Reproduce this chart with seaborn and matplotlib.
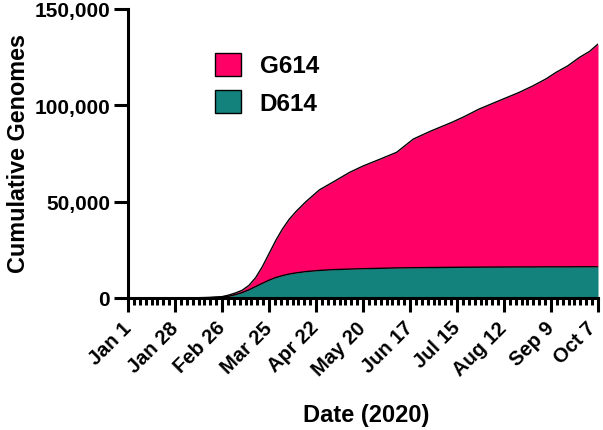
import numpy as np
import pandas as pd
import matplotlib
matplotlib.use("Agg")
import matplotlib.pyplot as plt
import matplotlib.transforms as mtransforms
from matplotlib.ticker import FuncFormatter, MultipleLocator
import seaborn as sns

# days since Jan 1 2020
days = [0, 14, 28, 42, 49, 56, 60, 64, 68, 72, 76, 80, 84, 88, 92, 96, 100,
        106, 114, 122, 132, 140, 150, 160, 165, 170, 180, 193, 200, 209, 220,
        233, 241, 249, 255, 262, 269, 275, 280]
d614 = [0, 15, 40, 100, 200, 500, 900, 1700, 2800, 4200, 5900, 7600, 9200,
        10600, 11600, 12400, 13000, 13700, 14300, 14700, 15000, 15200, 15400,
        15600, 15650, 15700, 15800, 15900, 15950, 16000, 16050, 16100, 16100,
        16150, 16150, 16150, 16200, 16200, 16200]
g614 = [0, 5, 10, 50, 100, 200, 600, 900, 1200, 2300, 4600, 8600, 13800,
        19200, 24200, 28400, 31800, 36300, 41800, 45400, 50200, 53300, 56600,
        60000, 63400, 66800, 70700, 75300, 78050, 82000, 85950, 90600, 93900,
        97550, 100950, 104350, 108700, 111800, 115600]

tick_days = [0, 28, 56, 84, 112, 140, 168, 196, 224, 252, 280]
tick_labels = ["Jan 1", "Jan 28", "Feb 26", "Mar 25", "Apr 22", "May 20",
               "Jun 17", "Jul 15", "Aug 12", "Sep 9", "Oct 7"]

df = pd.DataFrame({"day": days, "D614": d614, "G614": g614})
df["total"] = df["D614"] + df["G614"]

pink = "#FF0066"
teal = "#13817C"

sns.set_style("ticks", {"axes.edgecolor": "black", "text.color": "black",
                        "xtick.color": "black", "ytick.color": "black",
                        "axes.labelcolor": "black"})
plt.rcParams["font.family"] = ["Liberation Sans", "DejaVu Sans"]
plt.rcParams["font.weight"] = "bold"

fig = plt.figure(figsize=(6.03, 4.31), dpi=100)
ax = fig.add_axes([0.2123, 0.3063, 0.7794, 0.6705])

ax.fill_between(df["day"], df["D614"], df["total"], color=pink, label="G614",
                linewidth=0)
ax.fill_between(df["day"], 0, df["D614"], color=teal, label="D614", linewidth=0)
sns.lineplot(data=df, x="day", y="total", ax=ax, color="black", linewidth=1.0,
             legend=False)
sns.lineplot(data=df, x="day", y="D614", ax=ax, color="black", linewidth=1.0,
             legend=False)

ax.set_xlim(0, 280)
ax.set_ylim(0, 150000)
ax.set_xticks(tick_days)
ax.set_xticklabels(tick_labels, rotation=45, ha="right", va="center",
                   rotation_mode="anchor", fontsize=14.5, fontweight="bold")
ax.xaxis.set_minor_locator(MultipleLocator(3.5))
ax.set_yticks([0, 50000, 100000, 150000])
ax.yaxis.set_major_formatter(FuncFormatter(lambda v, p: f"{int(v):,}"))
for lab in ax.get_yticklabels():
    lab.set_fontsize(15)
    lab.set_fontweight("bold")

ax.tick_params(axis="both", which="major", length=10, width=2.2, pad=3)
ax.tick_params(axis="x", which="major", pad=9)
ax.tick_params(axis="x", which="minor", length=5, width=2.2)
sns.despine(ax=ax)
for s in ["left", "bottom"]:
    ax.spines[s].set_linewidth(2.2)

# nudge the last date label so it stays inside the canvas
last = ax.get_xticklabels()[-1]
last.set_transform(last.get_transform() +
                   mtransforms.ScaledTranslation(-4 / 72, 0, fig.dpi_scale_trans))

ax.set_xlabel("Date (2020)", fontsize=17, fontweight="bold")
ax.xaxis.set_label_coords(0.507, -0.363)
ax.set_ylabel("Cumulative Genomes", fontsize=16.8, fontweight="bold")
ax.yaxis.set_label_coords(-0.208, 0.505)

handles = [plt.Rectangle((0, 0), 1, 1, facecolor=pink, edgecolor="black", lw=1),
           plt.Rectangle((0, 0), 1, 1, facecolor=teal, edgecolor="black", lw=1)]
ax.legend(handles, ["G614", "D614"], loc="upper left",
          bbox_to_anchor=(0.138, 0.925), frameon=False, handlelength=1.1,
          handleheight=1.1, handletextpad=0.75, labelspacing=0.5,
          prop={"size": 17.5, "weight": "bold"})

fig.savefig("out.png", dpi=100)
